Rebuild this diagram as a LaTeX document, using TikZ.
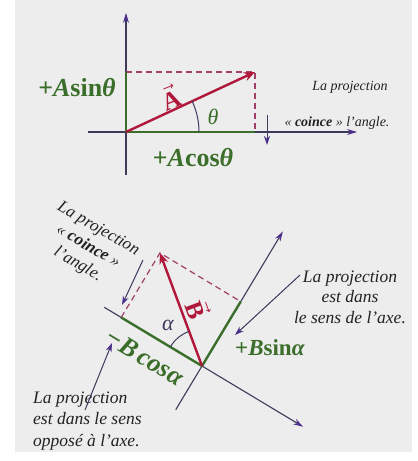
\documentclass[tikz,border=0pt]{standalone}
\usepackage{fontspec}
\setmainfont{Liberation Serif}
\usetikzlibrary{arrows.meta,calc}
\definecolor{bgcol}{HTML}{EDEDED}
\definecolor{axiscol}{HTML}{3D3A5C}
\definecolor{tipcol}{HTML}{4B2F8A}
\definecolor{veccol}{HTML}{B0173A}
\definecolor{grcol}{HTML}{3B6E2B}
\definecolor{dashcol}{HTML}{A0406A}
\definecolor{txtcol}{HTML}{222222}
\begin{document}
\begin{tikzpicture}[x=1pt,y=1pt,
  axis/.style={draw=axiscol, line width=1.1pt, -{Stealth[length=10pt,width=6pt,color=tipcol]}},
  vecline/.style={draw=veccol, line width=2.4pt, -{Stealth[length=11pt,width=9pt]}},
  projline/.style={draw=grcol, line width=2.4pt},
  projdash/.style={draw=dashcol, line width=1.2pt, dash pattern=on 6pt off 4pt},
  pointer/.style={draw=axiscol, line width=1pt, -{Stealth[length=9pt,width=6pt,color=tipcol]}},
  anglearc/.style={draw=axiscol, line width=1pt},
  glabel/.style={text=grcol, inner sep=0pt},
  veclabel/.style={text=veccol, inner sep=0pt, font=\fontsize{25}{29}\selectfont\bfseries},
  note/.style={text=txtcol, inner sep=0pt, font=\itshape},
]
\useasboundingbox (0,0) rectangle (418,461);
\fill[white] (0,0) rectangle (418,461);
\fill[bgcol] (15,9) rectangle (412,461);

% ---------- top diagram ----------
\coordinate (O1) at (126,329);
\coordinate (X1s) at (88,329);
\coordinate (X1e) at (357,329);
\coordinate (Y1s) at (126,286);
\coordinate (Y1e) at (126,448);
\coordinate (A) at (255,389);
\coordinate (Ay) at (126,389);
\coordinate (Ax) at (255,329);
\draw[axis] (X1s) -- (X1e);
\draw[axis] (Y1s) -- (Y1e);
\draw[projdash] (Ay) -- (A) -- (Ax);
\draw[projline] (O1) -- (Ax);
\draw[projline] (O1) -- (Ay);
\draw[vecline] (O1) -- (A);
\draw[anglearc] ($(O1)+(73,0)$) arc[start angle=0,end angle=25,radius=73];
\node[glabel, font=\fontsize{26}{30}\selectfont\bfseries] (asin) at (77,373) {+\textit{A}sin\textit{θ}};
\node[glabel, font=\fontsize{26}{30}\selectfont\bfseries] (acos) at (193,303) {+\textit{A}cos\textit{θ}};
\node[glabel, font=\fontsize{22}{26}\selectfont\itshape] (theta) at (213,344) {θ};
\node[veclabel, rotate=22] (alab) at (170,364) {$\vec{\mbox{A}}$};
\coordinate (d1s) at (267,346);
\coordinate (d1e) at (267,316);
\draw[pointer] (d1s) -- (d1e);
\node[note, font=\fontsize{14}{17}\selectfont\itshape] (n1a) at (350,374) {La projection};
\node[note, font=\fontsize{14}{17}\selectfont\itshape] (n1b) at (337,338) {« \textbf{coince} » l’angle.};

% ---------- bottom diagram ----------
\coordinate (O2) at (202,95);
\coordinate (U1s) at ($(O2)+(149:114)$);
\coordinate (U1e) at ($(O2)+(-31:118)$);
\coordinate (U2s) at ($(O2)+(239:51)$);
\coordinate (U2e) at ($(O2)+(59:157)$);
\coordinate (B) at ($(O2)+(110.4:120.6)$);
\coordinate (Bx) at ($(U1s)!(B)!(U1e)$);
\coordinate (By) at ($(U2s)!(B)!(U2e)$);
\draw[axis] (U1s) -- (U1e);
\draw[axis] (U2s) -- (U2e);
\draw[projdash] (Bx) -- (B) -- (By);
\draw[projline] (O2) -- (Bx);
\draw[projline] (O2) -- (By);
\draw[vecline] (O2) -- (B);
\draw[anglearc] ($(O2)+(110.4:37)$) arc[start angle=110.4,end angle=149,radius=37];
\node[text=axiscol, inner sep=0pt, font=\fontsize{22}{26}\selectfont\itshape] (alpha) at (168,136) {α};
\node[veclabel, rotate=-69.6] (blab) at (198,152) {$\vec{\mbox{B}}$};
\node[glabel, rotate=-31, font=\fontsize{26}{30}\selectfont\bfseries\itshape] (bcos) at (145,104) {−B\,cosα};
\node[glabel, font=\fontsize{23}{27}\selectfont\bfseries] (bsin) at (270,113) {+\textit{B}sin\textit{α}};

\node[note, rotate=-30, align=center, font=\fontsize{17}{20.5}\selectfont\itshape] (n2) at (88,214) {La projection\\« \textbf{coince} »\\l’angle.};
\coordinate (p2s) at (143,201);
\coordinate (p2e) at (122,156);
\draw[pointer] (p2s) -- (p2e);

\node[note, align=center, font=\fontsize{17.5}{20.5}\selectfont\itshape] (n3) at (350,164) {La projection\\est dans\\le sens de l’axe.};
\coordinate (p3s) at (300,186);
\coordinate (p3e) at (235,126);
\draw[pointer] (p3s) -- (p3e);

\node[note, anchor=west, align=left, font=\fontsize{17.5}{21.5}\selectfont\itshape] (n4) at (33,40) {La projection\\est dans le sens\\opposé à l’axe.};
\coordinate (p4s) at (85,51);
\coordinate (p4e) at (112,118);
\draw[pointer] (p4s) -- (p4e);
\end{tikzpicture}
\end{document}
